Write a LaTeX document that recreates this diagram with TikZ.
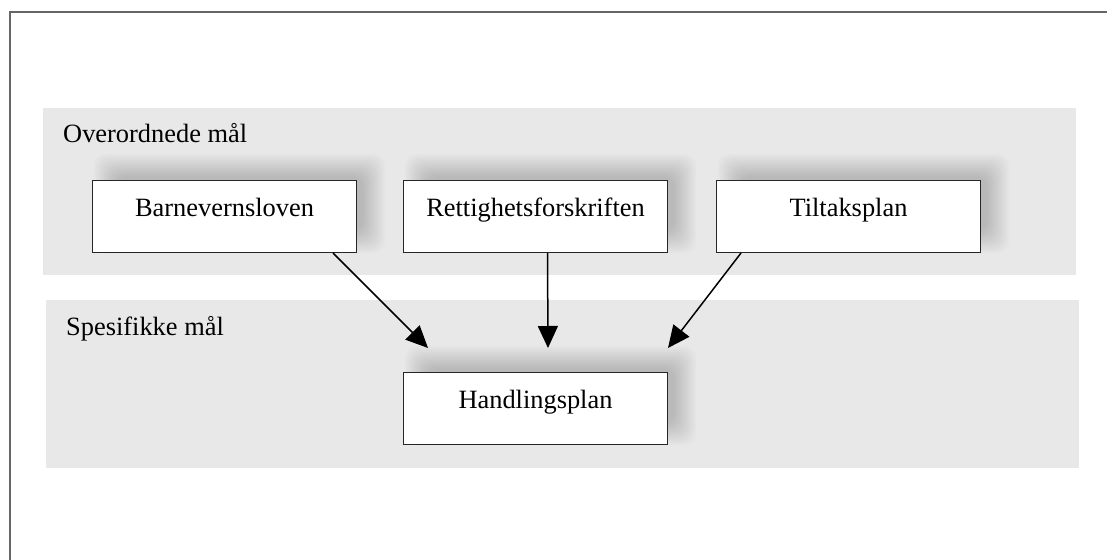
\documentclass[tikz,border=0pt]{standalone}
\usepackage{fontspec}
\setmainfont{Liberation Serif}
\usetikzlibrary{arrows.meta}
\definecolor{bandgray}{HTML}{E8E8E8}
\pgfdeclarelayer{bands}
\pgfdeclarelayer{shade}
\pgfsetlayers{bands,shade,main}
\tikzset{
  band/.style={fill=bandgray, draw=none},
  bandlabel/.style={anchor=base west, inner sep=0pt, font=\fontsize{26.4}{30}\selectfont},
  docbox/.style={draw=black!85, line width=1pt, fill=white, rectangle,
    anchor=north west, minimum width=264pt, minimum height=72pt,
    inner xsep=4pt, inner ysep=0pt, text height=36pt, text depth=36pt,
    font=\fontsize{26.4}{30}\selectfont},
  shadelayer/.style={fill=black, opacity=0.016, rounded corners=12pt},
  arr/.style={line width=1.5pt, -{Triangle[length=22pt,width=20pt]}}
}
% soft shadow: stacked translucent rectangles, offset up and to the right
\newcommand\softshade[1]{%
  \foreach \e in {13,11,...,-9}{%
    \fill[shadelayer] ([shift={(15-\e,-13-\e)}]#1.north west)
      rectangle ([shift={(15+\e,-13+\e)}]#1.south east);
  }}
\begin{document}
\begin{tikzpicture}[x=1pt,y=-1pt]
  \useasboundingbox (0,0) rectangle (1107,559);
  % outer frame (right and bottom edges run off the page)
  \draw[black!60, line width=1.5pt] (10,12) rectangle (1130,580);
  % the two levels
  \begin{pgfonlayer}{bands}
    \fill[band] (43,108) rectangle (1076,275);
    \fill[band] (46,300) rectangle (1079,468);
  \end{pgfonlayer}
  \node[bandlabel] (lvlA) at (63,142) {Overordnede mål};
  \node[bandlabel] (lvlB) at (66,335) {Spesifikke mål};
  % documents
  \node[docbox] (barn) at (92,180) {Barnevernsloven};
  \node[docbox] (rett) at (403,180) {Rettighetsforskriften};
  \node[docbox] (tilt) at (716,180) {Tiltaksplan};
  \node[docbox] (hand) at (403,372) {Handlingsplan};
  \begin{pgfonlayer}{shade}
    \softshade{barn}\softshade{rett}\softshade{tilt}\softshade{hand}
  \end{pgfonlayer}
  % arrow tips just above the action plan
  \coordinate (tipL) at (428,348);
  \coordinate (tipM) at (548,348);
  \coordinate (tipR) at (668,348);
  \draw[arr] ([xshift=-24pt]barn.south east) -- (tipL);
  \draw[arr] ([xshift=12pt]rett.south) -- (tipM);
  \draw[arr] ([xshift=25pt]tilt.south west) -- (tipR);
\end{tikzpicture}
\end{document}
